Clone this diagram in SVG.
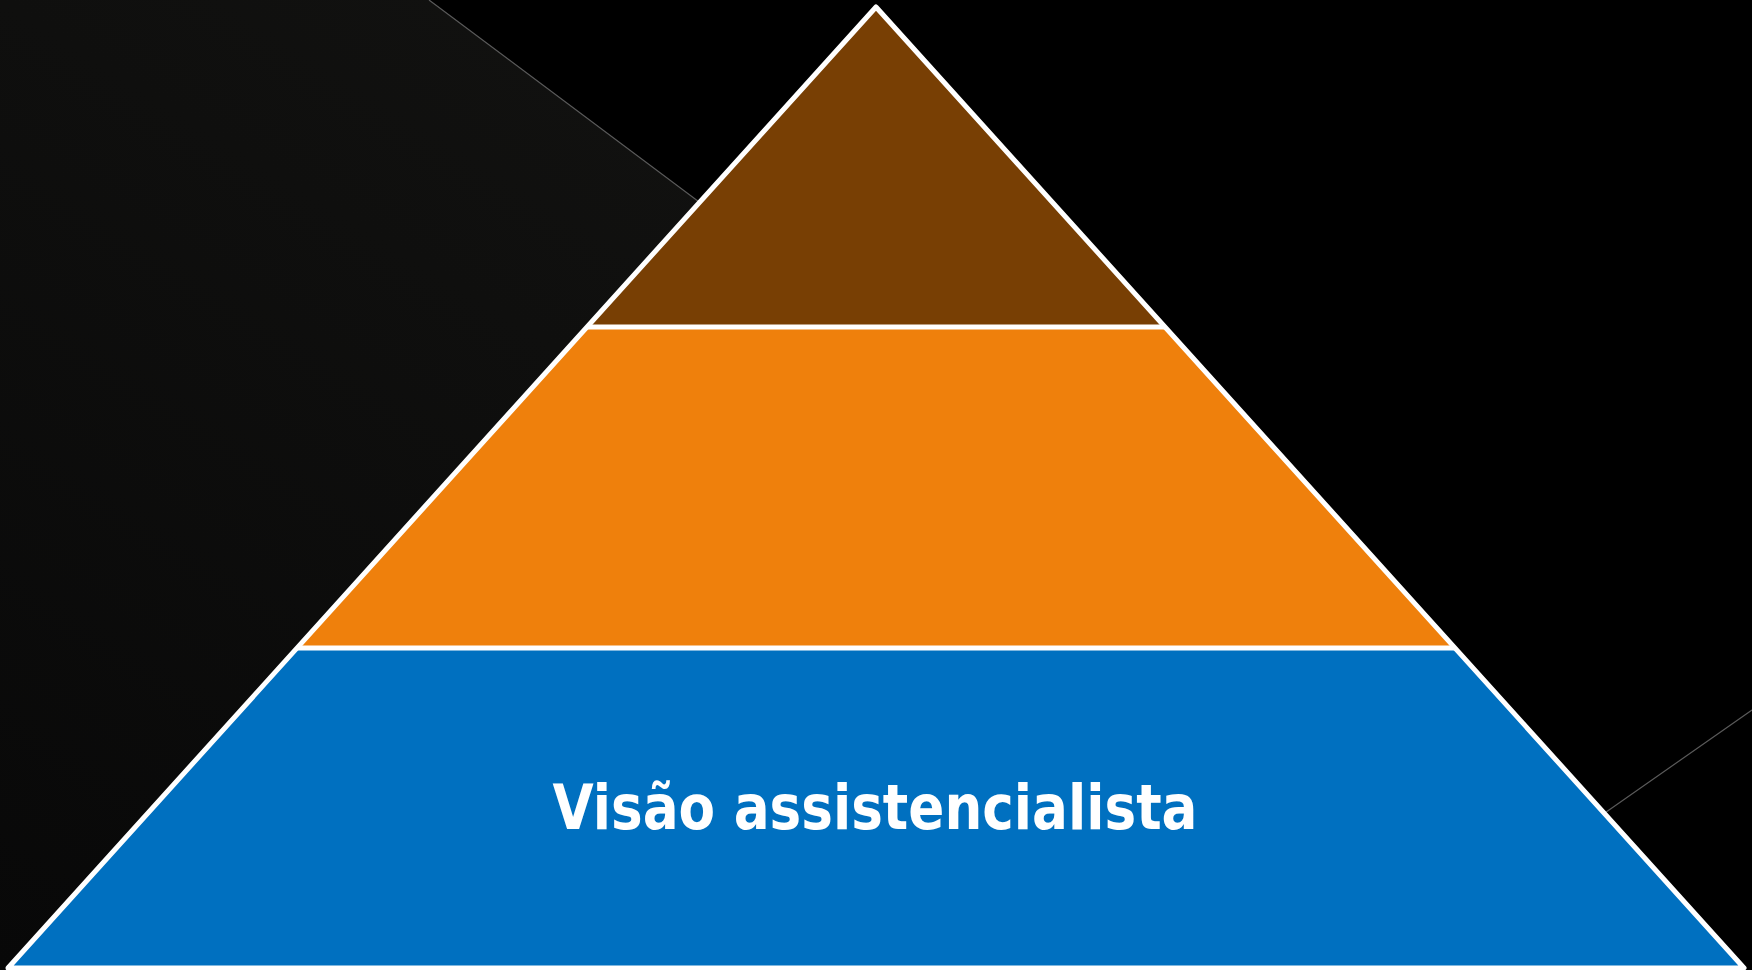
<svg xmlns="http://www.w3.org/2000/svg" width="1752" height="970" viewBox="0 0 1752 970">
  <defs>
    <linearGradient id="bgGrad" x1="1" y1="0" x2="0" y2="1">
      <stop offset="0" stop-color="#161614"/>
      <stop offset="1" stop-color="#080808"/>
    </linearGradient>
    <style>
      .edge { stroke: #5a5a5a; stroke-width: 1.2; fill: none; }
      .layer { stroke: none; }
      .outline { fill: none; stroke: #ffffff; stroke-width: 5; stroke-linejoin: round; }
      .divider { stroke: #ffffff; stroke-width: 5; }
      .label { font-family: "DejaVu Sans", "Liberation Sans", sans-serif; font-weight: bold; font-size: 62px; fill: #ffffff; }
    </style>
  </defs>
  <rect x="0" y="0" width="1752" height="970" fill="#000000"/>
  <g id="background">
    <polygon points="0,0 429,0 1559,845 1000,970 0,970" fill="url(#bgGrad)"/>
    <polyline class="edge" points="429,0 1559,845 1752,710"/>
  </g>
  <g id="layer-top">
    <polygon class="layer" points="876,7 587,327 1165,327" fill="#783F04"/>
  </g>
  <g id="layer-middle">
    <polygon class="layer" points="587,327 1165,327 1455,648 297,648" fill="#EF800C"/>
  </g>
  <g id="layer-bottom">
    <polygon class="layer" points="297,648 1455,648 1744,968 8,968" fill="#0070C0"/>
    <text class="label" x="875" y="829" text-anchor="middle" textLength="645" lengthAdjust="spacingAndGlyphs">Visão assistencialista</text>
  </g>
  <g id="connectors">
    <line class="divider" x1="587" y1="327" x2="1165" y2="327"/>
    <line class="divider" x1="297" y1="648" x2="1455" y2="648"/>
    <polygon class="outline" points="876,7 1744,968 8,968"/>
  </g>
</svg>
